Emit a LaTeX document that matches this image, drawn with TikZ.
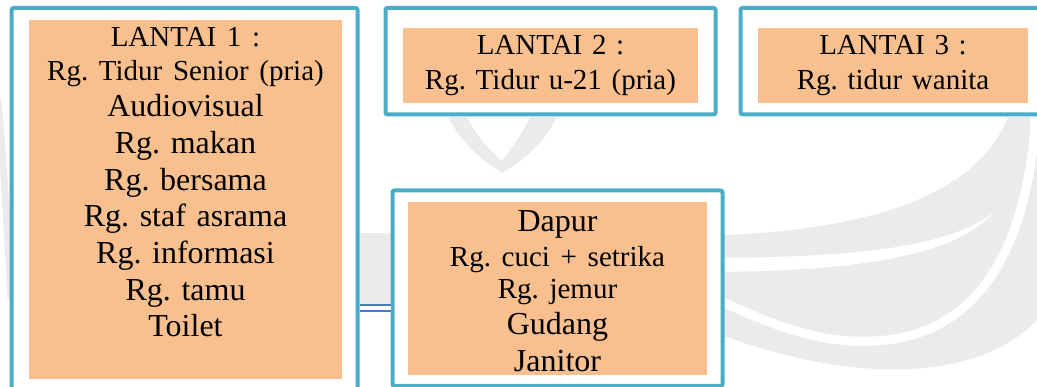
\documentclass[tikz,border=0pt]{standalone}
\usepackage{fontspec}
\setmainfont{Liberation Serif}
\usetikzlibrary{fit}
\definecolor{frameblue}{HTML}{4BACC6}
\definecolor{panelorange}{HTML}{F9C08F}
\definecolor{linkblue}{HTML}{4A7DBF}
\definecolor{markgrey}{HTML}{EBEBEB}
\newcommand{\smallline}[1]{{\fontsize{29}{36.7}\selectfont #1}}
\frenchspacing

\begin{document}
\frenchspacing
\begin{tikzpicture}[x=1pt,y=-1pt,
  outerbox/.style={draw=frameblue, line width=4pt, fill=white, rounded corners=2pt,
                   inner sep=0pt, outer sep=0pt},
  innerbox/.style={fill=panelorange, inner sep=0pt, outer sep=0pt},
  roomtext/.style={text width=#1, align=center, inner sep=0pt, anchor=base},
  bigfont/.style={font=\fontsize{32}{36.7}\selectfont},
  smallfont/.style={font=\fontsize{29}{35}\selectfont},
  linkline/.style={draw=linkblue, line width=2pt, double=white, double distance=4pt},
]
\useasboundingbox (0,0) rectangle (1037,387);
\clip (0,0) rectangle (1037,387);

% faint background logo
\fill[markgrey] (355,233) -- (700,236) .. controls (860,232) and (975,200) .. (1008,117)
  -- (1037,117) -- (1037,320) .. controls (980,380) and (860,385) .. (727,337)
  -- (355,305) -- cycle;
\fill[white] (993,213) .. controls (950,245) and (870,258) .. (700,258)
  -- (700,272) .. controls (880,272) and (960,250) .. (993,213) -- cycle;
\draw[white, line width=9pt] (1036,110) .. controls (1030,230) and (990,320) .. (900,338)
  .. controls (820,352) and (760,318) .. (700,292);
\fill[markgrey, even odd rule]
  (448,117) .. controls (465,150) and (490,165) .. (502,173) .. controls (515,165) and (540,150) .. (557,117) -- cycle
  (467,117) .. controls (478,140) and (495,155) .. (502,161) .. controls (510,150) and (522,135) .. (530,117) -- cycle;
\draw[markgrey, line width=7pt] (-2,100) .. controls (5,180) and (8,240) .. (11,300);

% outer frames
\node[outerbox, fit={(11.7,8) (357.5,395)}] (p1) {};
\node[outerbox, fit={(385.5,8) (715.5,114.5)}] (p2) {};
\node[outerbox, fit={(740.5,8) (1045,114.5)}] (p3) {};
\node[outerbox, fit={(392.5,190.5) (722.5,386)}] (p4) {};

% orange panels
\node[innerbox, fit={(29,20) (342,379)}] (b1) {};
\node[innerbox, fit={(403,28) (698,103)}] (b2) {};
\node[innerbox, fit={(758,28) (1028,103)}] (b3) {};
\node[innerbox, fit={(408,202) (707,375)}] (b4) {};

% room lists
\node[roomtext=313pt, bigfont] (t1) at (185.5,46.7)
  {\smallline{LANTAI 1 :}\\[-2.4pt]
   \smallline{Rg. Tidur Senior (pria)}\\[-1pt]
   Audiovisual\\
   Rg. makan\\
   Rg. bersama\\
   Rg. staf asrama\\
   Rg. informasi\\
   Rg. tamu\\
   Toilet};
\node[roomtext=295pt, smallfont] (t2) at (550.5,55)
  {LANTAI 2 :\\ Rg. Tidur u-21 (pria)};
\node[roomtext=270pt, smallfont] (t3) at (893,55)
  {LANTAI 3 :\\ Rg. tidur wanita};
\node[roomtext=299pt, bigfont] (t4) at (557.5,231.7)
  {Dapur\\[-1.7pt]
   \smallline{Rg. cuci + setrika}\\[-4.4pt]
   \smallline{Rg. jemur}\\[-0.7pt]
   Gudang\\
   Janitor};

% link between ground floor and service block
\coordinate (linky) at (0,308.3);
\draw[linkline, shorten <=2pt, shorten >=2pt] (p1.east |- linky) -- (p4.west |- linky);
\end{tikzpicture}
\end{document}
